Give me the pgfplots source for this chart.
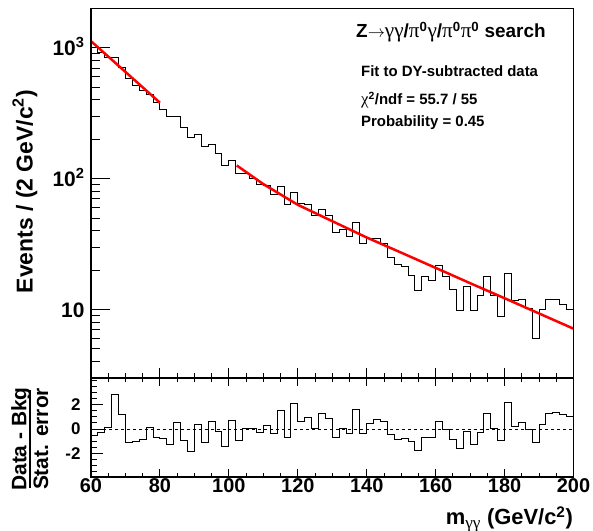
\documentclass[border=0pt]{standalone}
\usepackage{fontspec}
\setmainfont{Liberation Sans}
\newfontfamily\greek{Liberation Serif}[Scale=1.12]
\usepackage{pgfplots}
\usepackage{pgfplotstable}
\pgfplotsset{compat=1.18}
\newcommand{\fs}[1]{\fontsize{#1}{#1}\selectfont}
\newcommand{\gr}[1]{{\greek\mdseries #1}}

\pgfplotstableread{
x y
60 1005
62 920
64 845
66 838
68 711
70 580
72 518
74 472
76 440
78 380
80 338
82 296
84 296
86 245
88 207
90 218
92 177
94 182
96 156
98 127
100 138
102 110
104 110
106 101
108 90
110 88
112 76
114 87
116 63
118 79
120 65
122 63
124 52
126 58
128 52
130 39
132 41
134 36
136 46
138 32
140 35
142 35
144 32
146 25
148 22
150 21.3
152 18.1
154 13.9
156 18.0
158 16.8
160 21.8
162 17.8
164 14.1
166 9.9
168 15.1
170 9.9
172 12.9
174 17.8
176 12.7
178 8.9
180 18.9
182 11.8
184 12.0
186 10.2
188 6.0
190 10.0
192 12.0
194 11.9
196 11.0
198 10.0
200 10.0
}\datatable

\pgfplotstableread{
x r
60 -0.5
62 -0.3
64 0.1
66 2.8
68 1.2
70 -1.1
72 -1.05
74 -0.9
76 0.15
78 -0.7
80 -0.8
82 -1.25
84 0.5
86 -0.95
88 -1.85
90 0.4
92 -1.1
94 0.6
96 -0.2
98 -1.4
100 0.7
102 -0.95
104 0
106 0.03
108 -0.25
110 0.27
112 -0.35
114 1.5
116 -0.73
118 2.1
120 0.65
122 0.95
124 0.05
126 1.27
128 0.86
130 -0.68
132 0.05
134 -0.4
136 1.6
138 -0.4
140 0.46
142 0.78
144 0.57
146 -0.49
148 -0.84
150 -0.76
152 -1.05
154 -1.78
156 -0.7
158 -0.68
160 0.65
162 -0.08
164 -0.84
166 -1.6
168 -0.19
170 -1.3
172 -0.3
174 1.27
176 0.05
178 -0.92
180 2.19
182 0.19
184 0.51
186 -0.03
188 -1.08
190 0.38
192 1.24
194 1.35
196 1.22
198 1.0
200 1.0
}\restable

\begin{document}
\begin{tikzpicture}[x=1bp,y=1bp]
\useasboundingbox (0,0) rectangle (593,531);
\pgfplotsset{
  common/.style={scale only axis, width=482.5bp, xmin=60, xmax=200,
    axis line style={line width=1.2bp, black},
    every tick/.style={line width=0.9bp, black},
    tick align=inside},
}
% ---------- top panel ----------
\begin{axis}[common, at={(91bp,153bp)}, anchor=south west, height=369.7bp,
  ymode=log, ymin=3, ymax=2000,
  xtick=\empty, ytick pos=left,
  ytick={10,100,1000}, yticklabels={10,10\textsuperscript{2},10\textsuperscript{3}},
  minor ytick={4,5,6,7,8,9,20,30,40,50,60,70,80,90,200,300,400,500,600,700,800,900},
  major tick length=18.7bp, minor tick length=9.3bp,
  yticklabel style={font=\fs{21}\bfseries, anchor=base east, yshift=-7.5bp, xshift=-3bp},
  ]
\addplot[black, line width=1bp, const plot] table[x=x, y=y] {\datatable};
\addplot[red, line width=2.5bp] coordinates {(60,1122) (65,856) (70,653) (75,498) (80,380)};
\addplot[red, line width=2.5bp] coordinates {(102.3,126) (105,112.3) (110,90.8) (115,75.7) (120,63.1) (130,47.3) (140,35.5) (150,27.2) (160,20.8) (170,15.9) (180,12.2) (190,9.33) (200,7.14)};
\end{axis}
\begin{axis}[common, at={(91bp,153bp)}, anchor=south west, height=369.7bp,
  ymin=0, ymax=1, ytick=\empty,
  xtick={60,80,...,200}, xticklabels={}, minor x tick num=3, xtick pos=bottom,
  major tick length=9.7bp, minor tick length=5bp]
\end{axis}
% ---------- lower panel ----------
\begin{axis}[common, at={(91bp,54bp)}, anchor=south west, height=99bp,
  ymin=-3.92, ymax=4.16, xtick=\empty, ytick pos=left,
  ytick={-2,0,2}, yticklabels={-2,0,2},
  minor ytick={-3.5,-3,-2.5,-1.5,-1,-0.5,0.5,1,1.5,2.5,3,3.5,4},
  major tick length=11.7bp, minor tick length=6bp,
  yticklabel style={font=\fs{17}\bfseries, xshift=-7bp},
  ]
\addplot[black, line width=1bp, const plot] table[x=x, y=r] {\restable};
\addplot[black, line width=0.8bp, dashed] coordinates {(60,0) (200,0)};
\end{axis}
\begin{axis}[common, at={(91bp,54bp)}, anchor=south west, height=99bp,
  ymin=0, ymax=1, ytick=\empty,
  xtick={60,80,...,200}, xticklabels={60,80,100,120,140,160,180,200},
  minor x tick num=3, xtick pos=both,
  major tick length=8bp, minor tick length=4bp,
  xticklabel style={font=\fs{20}\bfseries, yshift=2bp}]
\end{axis}
% ---------- texts ----------
\node[anchor=base west, inner sep=0] at (356,493.5)
  {\fs{19}\bfseries Z$\rightarrow$\gr{γγ}/\gr{π}\textsuperscript{0}\gr{γ}/\gr{π}\textsuperscript{0}\gr{π}\textsuperscript{0} search};
\node[anchor=base west, inner sep=0] at (361,454) {\fs{15}\bfseries Fit to DY-subtracted data};
\node[anchor=base west, inner sep=0] at (361,426) {\fs{15}\bfseries \gr{χ}\textsuperscript{2}/ndf = 55.7 / 55};
\node[anchor=base west, inner sep=0] at (361,404) {\fs{15}\bfseries Probability = 0.45};
\node[rotate=90, anchor=east, inner sep=0] at (25,441) {\fs{23}\bfseries Events / (2 GeV/c\textsuperscript{2})};
\node[rotate=90, inner sep=0] at (21,92) {\fs{21}\bfseries Data - Bkg};
\node[rotate=90, inner sep=0] at (41,92) {\fs{21}\bfseries Stat. error};
\draw[line width=1.3bp] (30,43) -- (30,141);
\node[anchor=base east, inner sep=0] at (573,6) {\fs{22}\bfseries m\textsubscript{\gr{γγ}} (GeV/c\textsuperscript{2})};
\end{tikzpicture}
\end{document}
